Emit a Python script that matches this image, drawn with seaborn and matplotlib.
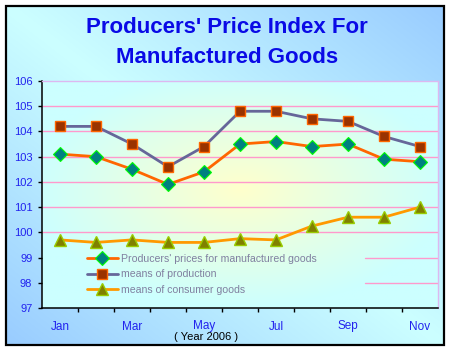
import numpy as np
import pandas as pd
import matplotlib
matplotlib.use("Agg")
import matplotlib.pyplot as plt
import seaborn as sns
from matplotlib.colors import to_rgb
from matplotlib.patches import Rectangle

# ---- data ----
months = ["Jan", "Feb", "Mar", "Apr", "May", "Jun", "Jul", "Aug", "Sep", "Oct", "Nov"]
producers = [103.1, 103.0, 102.5, 101.9, 102.4, 103.5, 103.6, 103.4, 103.5, 102.9, 102.8]
production = [104.2, 104.2, 103.5, 102.6, 103.4, 104.8, 104.8, 104.5, 104.4, 103.8, 103.4]
consumer = [99.7, 99.6, 99.7, 99.6, 99.6, 99.75, 99.7, 100.25, 100.6, 100.6, 101.0]
series_names = ["Producers' prices for manufactured goods", "means of production",
                "means of consumer goods"]
yticks = [97, 98, 99, 100, 101, 102, 103, 104, 105, 106]
shown_months = ["Jan", "Mar", "May", "Jul", "Sep", "Nov"]
title = "Producers' Price Index For\nManufactured Goods"
xlabel = "( Year 2006 )"

sns.set_style("white")
plt.rcParams['font.family'] = ['Liberation Sans', 'DejaVu Sans']

W, H = 450, 350
fig = plt.figure(figsize=(W / 100, H / 100), dpi=100, facecolor="white")

# ---- figure background gradient ----
bg = fig.add_axes([6 / W, 1 - 345 / H, 438 / W, 339 / H])
bg.set_axis_off()
u = np.linspace(0, 1, 300)[None, :]
v = np.linspace(0, 1, 300)[:, None]
t = np.clip(np.abs(u - v), 0, 1)
c_light = np.array(to_rgb("#CCFFFF"))
c_blue = np.array(to_rgb("#99CCFF"))
img = c_light[None, None, :] * (1 - t[..., None]) + c_blue[None, None, :] * t[..., None]
bg.imshow(img, extent=[0, 1, 0, 1], aspect="auto", origin="upper")
bg.set_xlim(0, 1)
bg.set_ylim(0, 1)
bg.add_patch(Rectangle((0, 0), 1, 1, fill=False, edgecolor="black", linewidth=1.6,
                       transform=bg.transAxes, clip_on=False))

# ---- main axes ----
ax = fig.add_axes([42 / W, 1 - 308 / H, 396 / W, 227 / H])
ax.set_facecolor("none")
x = np.arange(len(months))
ax.set_xlim(-0.5, len(months) - 0.5)
ax.set_ylim(yticks[0], yticks[-1])

# plot-area gradient: yellow centre, cyan edges
gx = np.linspace(-1, 1, 300)[None, :]
gy = np.linspace(-1, 1, 300)[:, None]
r = np.clip(np.sqrt(gx ** 2 + (gy + 0.05) ** 2) / 1.05, 0, 1)
c_y = np.array(to_rgb("#FFFFCC"))
c_c = np.array(to_rgb("#CCFFFF"))
img2 = c_y[None, None, :] * (1 - r[..., None]) + c_c[None, None, :] * r[..., None]
ax.imshow(img2, extent=[-0.5, len(months) - 0.5, yticks[0], yticks[-1]],
          aspect="auto", origin="upper", zorder=0)

# grid lines (98 and 99 hidden behind legend area on left)
for yv in yticks[1:-1]:
    xmin = (365 - 42) / 396 if yv in (98, 99) else 0
    ax.axhline(yv, xmin=xmin, xmax=1, color="#FF99CC", linewidth=1, zorder=1)

df = pd.DataFrame({"month": x, "producers": producers, "production": production,
                   "consumer": consumer})

sns.lineplot(data=df, x="month", y="producers", ax=ax, color="#FF6600", linewidth=2,
             marker="D", markersize=7.5, markerfacecolor="#008080",
             markeredgecolor="#00FF00", markeredgewidth=0.8, label=series_names[0], zorder=3)
sns.lineplot(data=df, x="month", y="production", ax=ax, color="#666699", linewidth=2,
             marker="s", markersize=7.5, markerfacecolor="#993300",
             markeredgecolor="#FF6600", markeredgewidth=1.0, label=series_names[1], zorder=3)
sns.lineplot(data=df, x="month", y="consumer", ax=ax, color="#FF9900", linewidth=2,
             marker="^", markersize=8.5, markerfacecolor="#808000",
             markeredgecolor="#99CC00", markeredgewidth=1.0, label=series_names[2], zorder=3)

# axes styling
for s in ["left", "bottom"]:
    ax.spines[s].set_color("black")
    ax.spines[s].set_linewidth(1.1)
for s in ["top", "right"]:
    ax.spines[s].set_color("#DDB8F0")
    ax.spines[s].set_linewidth(1.0)

ax.set_yticks(yticks)
ax.set_yticklabels([str(v) for v in yticks])
ax.tick_params(axis="y", direction="out", length=3, width=1, color="black",
               labelcolor="#2222EE", labelsize=8, pad=4, left=True)

major_pos = [months.index(m) for m in shown_months]
ax.set_xticks(major_pos)
ax.set_xticklabels(shown_months)
ax.set_xticks(np.arange(len(months) - 1) + 0.5, minor=True)
ax.tick_params(axis="x", which="major", length=0, labelcolor="#2222EE", labelsize=8.5, pad=9)
ax.tick_params(axis="x", which="minor", direction="out", length=3, width=1,
               color="black", bottom=True)
ax.set_xlabel("")
ax.set_ylabel("")

ax.annotate(xlabel, xy=(4.05, -0.128), xycoords=("data", "axes fraction"),
            ha="center", va="center", fontsize=8, color="black")

leg = ax.legend(loc="upper left", bbox_to_anchor=((87 - 42) / 396, (308 - 254) / 227),
                frameon=False, fontsize=7.6, labelcolor="#8080A0", handlelength=2.9,
                handletextpad=0.3, labelspacing=0.5, borderpad=0, borderaxespad=0)

fig.text(227 / W, 1 - 42.5 / H, title, ha="center", va="center", fontsize=16,
         fontweight="bold", color="#0A0AE6", linespacing=1.6)

fig.savefig("out.png", dpi=100, facecolor="white")
